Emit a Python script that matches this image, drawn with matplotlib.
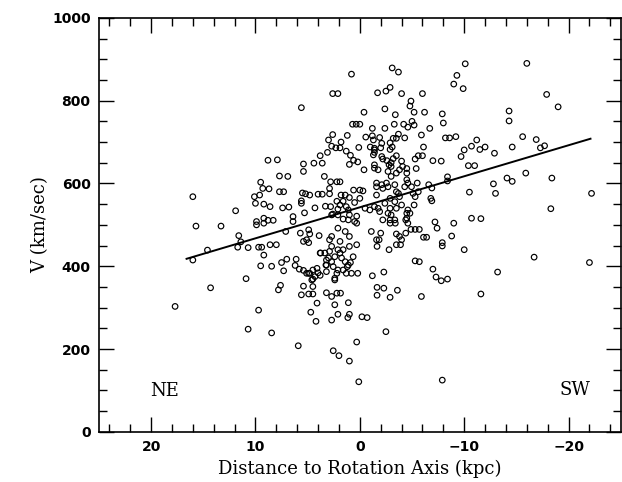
import matplotlib
matplotlib.use("Agg")
import matplotlib.pyplot as plt
from matplotlib.ticker import MultipleLocator

# (distance kpc, velocity km/s), grouped by region
pos_high = [
    (0.8, 864), (2.6, 817), (2.1, 817), (5.6, 783), (0.7, 743), (0.35, 743), (0.0, 743),
    (3.0, 705), (2.6, 718), (1.2, 716), (1.8, 700), (2.7, 690), (2.3, 686), (1.9, 686),
    (0.1, 687), (3.8, 667), (3.1, 675), (1.3, 678), (0.9, 668), (0.6, 656), (1.0, 646),
    (0.2, 652), (8.8, 656), (7.9, 657), (5.4, 647), (4.4, 649), (3.6, 649), (5.4, 629),
    (7.7, 618), (6.9, 617), (3.4, 617), (9.5, 603), (9.3, 588), (8.7, 587), (7.7, 580),
    (7.3, 580), (2.8, 604), (2.2, 604), (1.9, 604), (2.9, 588), (0.6, 584), (10.1, 568),
    (9.6, 572), (5.5, 577), (5.2, 575), (4.8, 572), (4.0, 574), (3.6, 574), (2.9, 575),
    (1.8, 572), (1.4, 572), (1.0, 566), (10.0, 552), (9.2, 550), (8.6, 544), (7.4, 541),
    (6.8, 543), (5.6, 558), (5.6, 552), (4.3, 541), (3.3, 545), (2.8, 544), (2.2, 557),
    (1.6, 557), (0.5, 554), (11.9, 534), (5.3, 529), (2.6, 526), (1.6, 514), (0.3, 521),
    (16.0, 568), (15.7, 497), (13.3, 497), (9.9, 508), (9.2, 516), (8.8, 511), (8.3, 511),
    (6.4, 520), (6.4, 508), (9.9, 500), (9.2, 504), (1.9, 548), (2.1, 538), (1.3, 544),
    (1.1, 536), (2.1, 524), (1.1, 512), (0.5, 508), (0.3, 504), (1.0, 524), (0.0, 564),
    (2.7, 524),
]

pos_low = [
    (5.7, 480), (4.9, 488), (4.8, 478), (5.1, 464), (5.4, 460), (4.9, 457), (3.9, 474),
    (7.1, 484), (11.6, 474), (11.4, 459), (11.7, 446), (10.7, 445), (9.7, 446), (9.4, 446),
    (8.6, 452), (8.0, 452), (14.6, 439), (9.2, 427), (9.5, 401), (8.45, 400), (7.5, 409),
    (7.3, 389), (7.0, 417), (6.2, 402), (6.1, 417), (5.8, 393), (5.4, 390), (4.9, 383),
    (4.5, 391), (4.1, 395), (4.0, 384), (4.3, 375), (4.6, 367), (3.8, 378), (3.2, 387),
    (3.25, 403), (3.8, 432), (3.35, 432), (16.0, 415), (10.9, 370), (14.3, 348), (17.7, 303),
    (9.7, 294), (10.7, 248), (8.45, 239), (5.9, 208), (2.55, 196), (2.0, 184), (1.0, 171),
    (0.3, 217), (0.1, 121), (7.8, 343), (7.6, 354), (5.4, 352), (5.6, 331), (4.9, 333),
    (4.5, 333), (4.5, 351), (4.5, 369), (4.8, 383), (5.1, 383), (3.2, 336), (2.7, 327),
    (2.2, 335), (1.85, 335), (2.4, 307), (2.1, 284), (2.7, 270), (1.1, 312), (1.0, 284),
    (1.15, 276), (4.7, 289), (4.2, 267), (4.1, 311), (2.4, 367), (2.1, 492), (1.4, 484),
    (1.0, 472), (2.7, 472), (2.9, 464), (1.9, 460), (2.7, 448), (2.1, 440), (1.6, 440),
    (2.9, 436), (1.9, 432), (2.4, 423), (1.75, 420), (1.4, 411), (3.0, 420), (2.7, 411),
    (2.55, 399), (2.1, 391), (1.6, 391), (1.3, 383), (0.8, 383), (0.2, 383), (2.4, 371),
    (3.2, 403), (1.1, 403), (0.64, 423), (1.0, 448), (3.76, 432), (3.2, 415), (1.2, 399),
    (2.2, 383), (0.3, 452), (0.9, 409),
]

neg_high = [
    (-3.1, 879), (-3.7, 869), (-10.1, 889), (-16.0, 890), (-9.3, 861), (-9.0, 840),
    (-9.9, 829), (-17.9, 815), (-19.0, 785), (-1.7, 819), (-2.5, 823), (-2.9, 832),
    (-4.0, 817), (-6.0, 817), (-4.9, 799), (-4.8, 787), (-5.2, 772), (-6.2, 772),
    (-7.9, 768), (-8.0, 746), (-0.4, 772), (-2.4, 780), (-3.4, 766), (-1.2, 733),
    (-2.4, 733), (-3.3, 743), (-4.2, 743), (-4.6, 736), (-5.0, 750), (-5.2, 741),
    (-6.7, 733), (-5.9, 717), (-0.57, 712), (-1.2, 715), (-1.3, 705), (-1.9, 711),
    (-3.2, 709), (-3.7, 719), (-3.5, 709), (-4.3, 710), (-1.0, 688), (-1.4, 685),
    (-2.1, 697), (-2.0, 686), (-2.9, 698), (-3.1, 688), (-6.1, 688), (-1.4, 675),
    (-2.9, 682), (-8.2, 710), (-8.6, 710), (-9.2, 713), (-9.7, 665), (-10.0, 681),
    (-10.7, 690), (-11.2, 705), (-11.5, 682), (-12.0, 688), (-12.9, 673), (-10.4, 643),
    (-11.0, 643), (-14.3, 775), (-14.3, 751), (-14.6, 688), (-15.6, 713), (-16.9, 706),
    (-17.3, 686), (-17.7, 691), (-14.1, 613), (-14.6, 605), (-15.9, 625), (-18.4, 613),
    (-12.8, 599), (-13.0, 576), (-10.5, 579), (-8.4, 616), (-8.4, 606), (-6.6, 597),
    (-6.9, 589), (-6.8, 564), (-6.9, 558), (-7.2, 507), (-9.0, 504), (-10.7, 516),
    (-11.6, 515), (-18.3, 539), (-22.2, 576), (-3.5, 667), (-4.0, 654), (-4.5, 636),
    (-5.4, 636), (-5.3, 659), (-5.6, 667), (-6.0, 667), (-7.0, 655), (-7.8, 654),
    (-2.6, 655), (-2.8, 645), (-3.0, 650), (-3.2, 660), (-0.4, 633), (-1.4, 637),
    (-1.75, 633), (-1.4, 681), (-1.3, 669), (-2.1, 665), (-2.2, 659), (-1.4, 645),
    (-3.0, 641), (-2.7, 629), (-3.0, 617), (-3.5, 625), (-3.8, 633), (-4.1, 641),
    (-4.5, 625), (-4.5, 609), (-4.6, 601), (-4.3, 592), (-1.6, 601), (-2.1, 597),
    (-2.55, 601), (0.0, 584), (-0.3, 582), (-1.6, 592), (-2.2, 588), (-2.7, 592),
    (-3.35, 597), (-3.5, 580), (-4.95, 592), (-1.6, 572), (-2.9, 564), (-3.35, 556),
    (-3.8, 568), (-4.0, 548), (-5.1, 576), (-5.3, 568), (-5.2, 548), (-4.6, 536),
    (-0.5, 540), (-0.96, 536), (-1.4, 544), (-1.75, 540), (-1.9, 532), (-2.4, 552),
    (-2.9, 540), (-2.7, 528), (-3.5, 540), (-4.5, 528), (-4.8, 528), (-4.5, 516),
    (-4.6, 504), (-3.0, 524), (-3.35, 512), (-2.9, 512), (-2.9, 504), (-3.4, 504),
    (-2.2, 512), (-5.6, 580), (-5.5, 601), (-3.7, 576), (-4.4, 512), (-7.4, 492),
]

neg_low = [
    (-1.1, 484), (-2.0, 480), (-3.5, 478), (-3.8, 472), (-4.4, 480), (-4.9, 489),
    (-5.3, 489), (-5.7, 489), (-6.1, 470), (-6.4, 470), (-8.8, 473), (-10.0, 440),
    (-7.9, 457), (-7.9, 449), (-1.6, 464), (-1.85, 464), (-1.65, 448), (-2.8, 440),
    (-3.5, 452), (-3.9, 452), (-4.0, 464), (-5.3, 413), (-5.7, 411), (-7.0, 393),
    (-7.3, 374), (-7.8, 365), (-8.4, 369), (-1.2, 377), (-2.3, 386), (-1.65, 349),
    (-1.65, 330), (-2.3, 347), (-2.9, 325), (-3.6, 342), (-5.9, 327), (-13.2, 386),
    (-11.6, 333), (-16.7, 422), (-22.0, 409), (-0.2, 278), (-0.7, 276), (-2.5, 242),
    (-7.9, 125),
]

# least-squares line as drawn in the figure
fit_dist = [16.6, -22.1]
fit_vel = [418, 708]

points = pos_high + pos_low + neg_high + neg_low
dist = [p[0] for p in points]
vel = [p[1] for p in points]

fig = plt.figure(figsize=(6.22, 4.82), dpi=100)
ax = fig.add_axes([0.159, 0.104, 0.839, 0.859])

ax.scatter(dist, vel, s=16, facecolors="none", edgecolors="black", linewidths=0.85)
ax.plot(fit_dist, fit_vel, color="black", linewidth=1.4)

ax.set_xlim(25, -25)
ax.set_ylim(0, 1000)
ax.xaxis.set_major_locator(MultipleLocator(10))
ax.xaxis.set_minor_locator(MultipleLocator(2))
ax.yaxis.set_major_locator(MultipleLocator(200))
ax.yaxis.set_minor_locator(MultipleLocator(50))
ax.tick_params(which="both", direction="in", top=True, right=True, width=1.0, color="black")
ax.tick_params(which="major", length=11, pad=6)
ax.tick_params(which="minor", length=5.5)
for lab in ax.get_xticklabels() + ax.get_yticklabels():
    lab.set_family("DejaVu Sans")
    lab.set_fontweight("bold")
    lab.set_fontsize(10)
for sp in ax.spines.values():
    sp.set_linewidth(1.2)

ax.set_xlabel("Distance to Rotation Axis (kpc)", family="DejaVu Serif", fontsize=13, labelpad=4)
ax.set_ylabel("V (km/sec)", family="DejaVu Serif", fontsize=13, labelpad=2)

ax.text(18.7, 99, "NE", family="DejaVu Serif", fontsize=13, ha="center", va="center")
ax.text(-20.6, 101, "SW", family="DejaVu Serif", fontsize=13, ha="center", va="center")

fig.savefig("out.png", dpi=100)
